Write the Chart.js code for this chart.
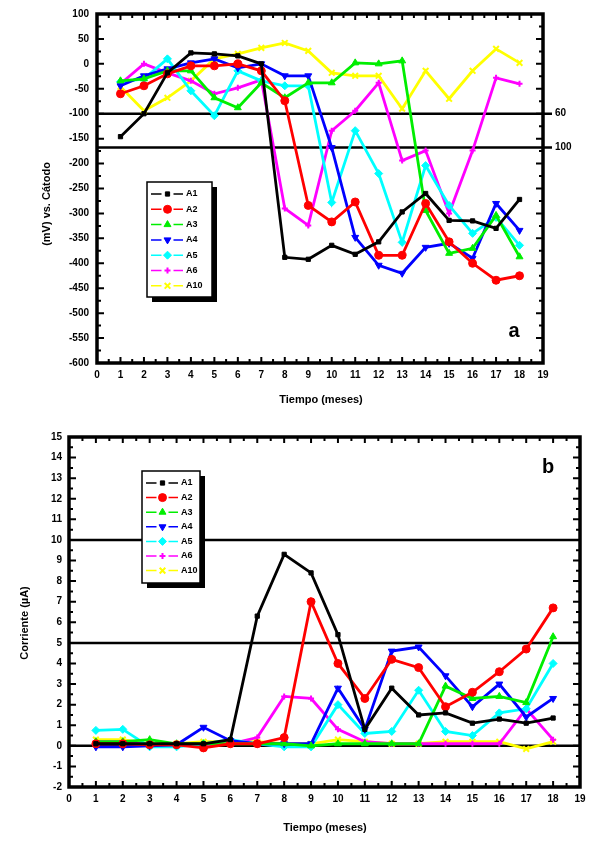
<!DOCTYPE html>
<html>
<head>
<meta charset="utf-8">
<script src="https://cdn.jsdelivr.net/npm/chart.js@4.4.1/dist/chart.umd.min.js"></script>
<style>
  body { margin: 0; background: #fff; width: 597px; height: 843px; position: relative; overflow: hidden; }
  canvas { position: absolute; left: 0; }
</style>
</head>
<body>
<canvas id="chartA" width="597" height="418" style="top:0"></canvas>
<canvas id="chartB" width="597" height="423" style="top:420px"></canvas>
<script>
// meses
const months = [1, 2, 3, 4, 5, 6, 7, 8, 9, 10, 11, 12, 13, 14, 15, 16, 17, 18];

// potencial (mV) vs. cátodo
const potA1 = [-146, -100, -18, 22, 20, 16, 0, -388, -392, -364, -382, -357, -297, -260, -314, -315, -330, -272];
const potA2 = [-60, -44, -20, -4, -4, 0, -14, -74, -284, -317, -277, -384, -384, -280, -357, -400, -434, -425];
const potA3 = [-34, -30, -14, -14, -68, -88, -38, -68, -38, -38, 2, 0, 6, -294, -380, -370, -304, -387];
const potA4 = [-44, -24, -10, 2, 10, -8, 0, -24, -24, -168, -348, -404, -420, -368, -360, -390, -280, -334];
const potA5 = [-36, -30, 10, -54, -104, -14, -34, -44, -44, -278, -134, -220, -358, -204, -284, -340, -308, -364];
const potA6 = [-40, 0, -18, -34, -60, -48, -32, -290, -324, -134, -94, -38, -194, -174, -300, -174, -28, -40];
const potA7 = [-46, -94, -68, -34, 10, 20, 32, 42, 26, -18, -24, -24, -90, -14, -70, -14, 30, 2];

// corriente (uA)
const curA1 = [0.1, 0.1, 0.1, 0.1, 0.1, 0.3, 6.3, 9.3, 8.4, 5.4, 0.8, 2.8, 1.5, 1.6, 1.1, 1.3, 1.1, 1.35];
const curA2 = [0.1, 0.1, 0.05, 0.05, -0.1, 0.1, 0.1, 0.4, 7.0, 4.0, 2.3, 4.2, 3.8, 1.9, 2.6, 3.6, 4.7, 6.7];
const curA3 = [0.2, 0.2, 0.3, 0.1, 0.1, 0.1, 0.1, 0.1, 0, 0.1, 0.1, 0.1, 0.1, 2.9, 2.3, 2.4, 2.1, 5.3];
const curA4 = [-0.05, -0.05, 0, 0.05, 0.9, 0.25, 0.1, 0.1, 0.1, 2.8, 0.8, 4.6, 4.8, 3.4, 1.9, 3.0, 1.4, 2.3];
const curA5 = [0.75, 0.8, -0.05, -0.05, 0.1, 0.3, 0.1, -0.05, -0.05, 2.0, 0.6, 0.7, 2.7, 0.7, 0.5, 1.6, 1.8, 4.0];
const curA6 = [0.2, 0.2, 0.05, 0.05, 0.05, 0.1, 0.4, 2.4, 2.3, 0.8, 0.2, 0.1, 0.1, 0.1, 0.1, 0.1, 1.8, 0.3];
const curA7 = [0.3, 0.3, 0.1, 0.1, 0.2, 0.2, 0.2, 0.1, 0.1, 0.3, 0.2, 0.1, 0.1, 0.2, 0.2, 0.2, -0.15, 0.2];

const seriesNames = ["A1", "A2", "A3", "A4", "A5", "A6", "A10"];
const seriesColors = ["#000000", "#ff0000", "#00ee00", "#0000ff", "#00ffff", "#ff00ff", "#ffff00"];
const markerStyles = ["rect", "circle", "triangle", "triangle", "rectRot", "cross", "crossRot"];
const markerRotation = [0, 0, 0, 180, 0, 0, 0];
const markerSize = [3, 4, 4, 4, 4, 3, 4];

const refLinesA = [-100, -168];
const refLabelsA = ["60", "100"];
const refLinesB = [10, 5, 0];

const FONT = "'Liberation Sans', Arial, sans-serif";

function buildDatasets(lists) {
    return lists.map((vals, i) => ({
        label: seriesNames[i],
        data: months.map((m, j) => ({ x: m, y: vals[j] })),
        borderColor: seriesColors[i],
        backgroundColor: seriesColors[i],
        borderWidth: 2.8,
        pointStyle: markerStyles[i],
        pointRotation: markerRotation[i],
        pointRadius: markerSize[i],
        pointBorderWidth: markerStyles[i].startsWith("cross") ? 2 : 1,
        tension: 0
    }));
}

// marco, ticks internos, lineas de referencia y textos
const decoracion = {
    id: "decoracion",
    beforeDatasetsDraw(chart, args, o) {
        const { ctx, chartArea: a, scales: { y } } = chart;
        ctx.save();
        ctx.strokeStyle = "#000";
        ctx.lineWidth = 2.5;
        o.refLines.forEach((v, i) => {
            const py = y.getPixelForValue(v);
            ctx.beginPath();
            ctx.moveTo(a.left, py);
            ctx.lineTo(a.right + o.refExtend, py);
            ctx.stroke();
            if (o.refLabels && o.refLabels[i]) {
                ctx.fillStyle = "#000";
                ctx.font = "bold 10px " + FONT;
                ctx.textBaseline = "middle";
                ctx.textAlign = "left";
                ctx.fillText(o.refLabels[i], a.right + o.refExtend + 3, py);
            }
        });
        ctx.restore();
    },
    afterDatasetsDraw(chart, args, o) {
        const { ctx, chartArea: a, scales: { x, y } } = chart;
        ctx.save();
        ctx.strokeStyle = "#000";
        ctx.lineWidth = 3.5;
        ctx.strokeRect(a.left, a.top, a.right - a.left, a.bottom - a.top);
        ctx.lineWidth = 2;
        for (let v = x.min; v <= x.max + 1e-6; v += o.xMinor) {
            const px = x.getPixelForValue(v);
            const major = Math.abs(v - Math.round(v)) < 1e-6;
            const len = major ? 6 : 4;
            ctx.beginPath();
            ctx.moveTo(px, a.bottom); ctx.lineTo(px, a.bottom - len);
            ctx.moveTo(px, a.top); ctx.lineTo(px, a.top + len);
            ctx.stroke();
        }
        for (let v = y.min; v <= y.max + 1e-6; v += o.yMinor) {
            const py = y.getPixelForValue(v);
            const k = Math.round((v - y.min) / o.yMinor);
            const len = k % 2 === 0 ? 7 : 4;
            ctx.beginPath();
            ctx.moveTo(a.left, py); ctx.lineTo(a.left + len, py);
            ctx.moveTo(a.right, py); ctx.lineTo(a.right - len, py);
            ctx.stroke();
        }
        ctx.fillStyle = "#000";
        ctx.font = "bold 11px " + FONT;
        ctx.textAlign = "center";
        ctx.textBaseline = "middle";
        ctx.fillText(o.xTitle, o.xTitlePos[0], o.xTitlePos[1]);
        ctx.save();
        ctx.translate(o.yTitlePos[0], o.yTitlePos[1]);
        ctx.rotate(-Math.PI / 2);
        ctx.fillText(o.yTitle, 0, 0);
        ctx.restore();
        ctx.font = "bold 20px " + FONT;
        ctx.fillText(o.tag, o.tagPos[0], o.tagPos[1]);
        ctx.restore();
    },
    afterDraw(chart, args, o) {
        const { ctx } = chart;
        const L = o.legend;
        ctx.save();
        ctx.fillStyle = "#000";
        ctx.fillRect(L.x + 5, L.y + 5, L.w, L.h);
        ctx.fillStyle = "#fff";
        ctx.fillRect(L.x, L.y, L.w, L.h);
        ctx.strokeStyle = "#000";
        ctx.lineWidth = 1.5;
        ctx.strokeRect(L.x, L.y, L.w, L.h);
        chart.data.datasets.forEach((ds, i) => {
            const ry = L.y + L.first + i * L.step;
            const mx = L.x + L.lineW / 2 + 5;
            ctx.strokeStyle = ds.borderColor;
            ctx.lineWidth = 1.5;
            ctx.beginPath();
            ctx.moveTo(L.x + 4, ry); ctx.lineTo(mx - 6, ry);
            ctx.moveTo(mx + 6, ry); ctx.lineTo(L.x + 5 + L.lineW, ry);
            ctx.stroke();
            ctx.fillStyle = ds.backgroundColor;
            ctx.lineWidth = ds.pointBorderWidth;
            Chart.helpers.drawPoint(ctx, {
                pointStyle: ds.pointStyle,
                rotation: ds.pointRotation,
                radius: ds.pointRadius,
                borderWidth: ds.pointBorderWidth
            }, mx, ry);
            ctx.fillStyle = "#000";
            ctx.font = "bold 9px " + FONT;
            ctx.textAlign = "left";
            ctx.textBaseline = "middle";
            ctx.fillText(ds.label, L.x + L.lineW + 8, ry);
        });
        ctx.restore();
    }
};

function crearGrafico(id, datasets, cfg) {
    const canvas = document.getElementById(id);
    return new Chart(canvas.getContext("2d"), {
        type: "line",
        data: { datasets },
        plugins: [decoracion],
        options: {
            responsive: false,
            animation: false,
            layout: { padding: { left: 0, top: cfg.top, right: canvas.width - cfg.right, bottom: 0 } },
            plugins: {
                legend: { display: false },
                tooltip: { enabled: false },
                decoracion: cfg.deco
            },
            scales: {
                x: {
                    type: "linear",
                    min: 0, max: 19,
                    grid: { display: false, drawTicks: false },
                    border: { display: false },
                    ticks: {
                        stepSize: 1, padding: 6, color: "#000",
                        font: { family: FONT, size: 10, weight: "bold" }
                    },
                    afterFit: (s) => { s.height = canvas.height - cfg.bottom; }
                },
                y: {
                    min: cfg.yMin, max: cfg.yMax,
                    grid: { display: false, drawTicks: false },
                    border: { display: false },
                    ticks: {
                        stepSize: cfg.yStep, padding: cfg.yPad, color: "#000",
                        font: { family: FONT, size: 10, weight: "bold" }
                    },
                    afterFit: (s) => { s.width = cfg.left; }
                }
            }
        }
    });
}

crearGrafico("chartA", buildDatasets([potA1, potA2, potA3, potA4, potA5, potA6, potA7]), {
    left: 97, right: 543, top: 13, bottom: 363,
    yMin: -600, yMax: 100, yStep: 50, yPad: 8,
    deco: {
        refLines: refLinesA, refLabels: refLabelsA, refExtend: 9,
        xMinor: 0.5, yMinor: 25,
        xTitle: "Tiempo (meses)", xTitlePos: [321, 400],
        yTitle: "(mV) vs. Cátodo", yTitlePos: [47, 204],
        tag: "a", tagPos: [514, 331],
        legend: { x: 147, y: 182, w: 65, h: 115, first: 12, step: 15.3, lineW: 31 }
    }
});

crearGrafico("chartB", buildDatasets([curA1, curA2, curA3, curA4, curA5, curA6, curA7]), {
    left: 69, right: 580, top: 17, bottom: 367,
    yMin: -2, yMax: 15, yStep: 1, yPad: 7,
    deco: {
        refLines: refLinesB, refExtend: 0,
        xMinor: 0.5, yMinor: 0.5,
        xTitle: "Tiempo (meses)", xTitlePos: [325, 408],
        yTitle: "Corriente (µA)", yTitlePos: [25, 203],
        tag: "b", tagPos: [548, 47],
        legend: { x: 142, y: 51, w: 58, h: 112, first: 12, step: 14.6, lineW: 31 }
    }
});
</script>
</body>
</html>
